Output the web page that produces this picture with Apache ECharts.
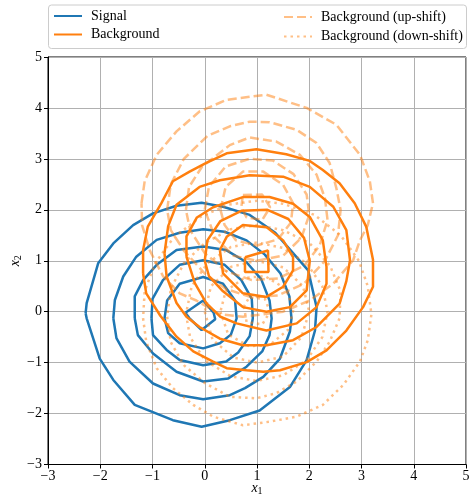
<!DOCTYPE html>
<html>
<head>
<meta charset="utf-8">
<script src="https://cdn.jsdelivr.net/npm/echarts@6/dist/echarts.min.js"></script>
<style>html,body{margin:0;padding:0;background:#fff}#c{width:474px;height:496px}</style>
</head>
<body>
<div id="c"></div>
<script>
// ---- axis ticks ----
const xTicks = [-3, -2, -1, 0, 1, 2, 3, 4, 5];
const yTicks = [-3, -2, -1, 0, 1, 2, 3, 4, 5];

// ---- Signal contours (outer -> inner), [x1, x2] ----
const signal1 = [[-2.28,-0.03],[-2.26,0.17],[-2.04,0.95],[-1.75,1.34],[-1.37,1.70],[-0.99,1.93],[-0.54,2.08],[-0.06,2.14],[0.35,2.06],[0.86,1.90],[1.35,1.55],[1.69,1.15],[1.98,0.81],[2.14,0.09],[2.11,-0.37],[1.95,-0.95],[1.63,-1.48],[1.05,-1.94],[0.48,-2.13],[-0.06,-2.26],[-0.61,-2.13],[-1.34,-1.83],[-1.75,-1.34],[-2.01,-0.92],[-2.26,-0.13],[-2.28,-0.03]];
const signal2 = [[-1.75,-0.13],[-1.72,0.23],[-1.56,0.69],[-1.31,1.08],[-0.92,1.41],[-0.48,1.55],[-0.03,1.62],[0.38,1.57],[0.80,1.40],[1.15,1.12],[1.45,0.75],[1.62,0.30],[1.66,-0.13],[1.63,-0.39],[1.44,-0.92],[1.12,-1.28],[0.77,-1.50],[0.48,-1.64],[-0.03,-1.72],[-0.48,-1.64],[-0.99,-1.41],[-1.44,-0.98],[-1.69,-0.52],[-1.75,-0.13]];
const signal3 = [[-1.34,-0.13],[-1.34,0.30],[-1.18,0.62],[-0.92,0.92],[-0.54,1.21],[-0.03,1.28],[0.41,1.21],[0.80,0.97],[1.08,0.64],[1.24,0.22],[1.28,-0.13],[1.24,-0.46],[1.10,-0.78],[0.80,-1.08],[0.45,-1.31],[-0.03,-1.37],[-0.54,-1.18],[-0.99,-0.82],[-1.28,-0.46],[-1.34,-0.13]];
const signal4 = [[-1.02,-0.13],[-1.00,0.25],[-0.80,0.62],[-0.48,0.92],[-0.03,1.01],[0.38,0.92],[0.70,0.62],[0.90,0.25],[0.92,-0.13],[0.86,-0.48],[0.64,-0.80],[0.41,-0.98],[-0.03,-1.05],[-0.48,-0.95],[-0.73,-0.75],[-0.99,-0.46],[-1.02,-0.13]];
const signal5 = [[-0.77,-0.13],[-0.72,0.22],[-0.48,0.55],[-0.03,0.68],[0.35,0.55],[0.58,0.22],[0.61,-0.13],[0.50,-0.45],[0.29,-0.62],[-0.03,-0.72],[-0.48,-0.62],[-0.70,-0.42],[-0.77,-0.13]];
const signal6 = [[-0.37,-0.02],[-0.03,0.22],[0.17,-0.02],[0.20,-0.15],[-0.06,-0.36],[-0.30,-0.12],[-0.37,-0.02]];

// ---- Background contours ----
const bg1 = [[-1.18,0.75],[-1.18,1.21],[-1.09,1.67],[-0.83,2.13],[-0.61,2.56],[-0.29,2.75],[0.03,2.92],[0.42,3.11],[0.99,3.19],[1.56,3.09],[2.01,2.96],[2.26,2.78],[2.58,2.52],[2.87,2.13],[3.09,1.67],[3.22,1.02],[3.22,0.49],[3.03,0.09],[2.71,-0.37],[2.33,-0.76],[1.95,-0.99],[1.44,-1.15],[1.12,-1.18],[0.80,-1.15],[0.42,-1.11],[0.16,-0.98],[-0.22,-0.78],[-0.54,-0.49],[-0.85,-0.08],[-1.12,0.36],[-1.18,0.75]];
const bg2 = [[-0.77,1.15],[-0.70,1.68],[-0.54,2.10],[-0.10,2.45],[0.29,2.58],[0.86,2.68],[1.50,2.65],[2.01,2.45],[2.46,2.06],[2.71,1.60],[2.78,1.01],[2.71,0.60],[2.58,0.16],[2.14,-0.30],[1.69,-0.56],[1.18,-0.66],[0.73,-0.66],[0.29,-0.53],[-0.10,-0.30],[-0.35,-0.10],[-0.54,0.17],[-0.73,0.69],[-0.77,1.15]];
const bg3 = [[-0.35,1.08],[-0.35,1.48],[-0.15,1.85],[0.16,2.05],[0.73,2.25],[1.24,2.25],[1.69,2.12],[2.01,1.86],[2.26,1.40],[2.33,0.88],[2.33,0.55],[2.14,0.09],[1.76,-0.23],[1.18,-0.37],[0.61,-0.23],[0.30,-0.10],[0.03,0.17],[-0.19,0.56],[-0.35,1.08]];
const bg4 = [[0.00,1.00],[0.05,1.40],[0.30,1.78],[0.70,1.98],[1.20,2.00],[1.60,1.82],[1.90,1.45],[2.01,1.00],[1.95,0.42],[1.63,0.09],[1.18,0.00],[0.73,0.09],[0.35,0.40],[0.08,0.70],[0.00,1.00]];
const bg5 = [[0.29,1.21],[0.42,1.47],[0.73,1.70],[1.18,1.66],[1.50,1.40],[1.69,1.07],[1.69,0.81],[1.50,0.49],[1.18,0.29],[0.73,0.36],[0.35,0.75],[0.29,1.21]];
const bg6 = [[0.77,1.07],[1.21,1.20],[1.22,0.78],[0.77,0.78],[0.77,1.07]];

// ---- Background (up-shift) contours ----
const up1 = [[-1.21,2.13],[-1.15,2.56],[-0.92,3.08],[-0.54,3.54],[-0.10,3.93],[0.42,4.16],[1.18,4.26],[1.95,4.00],[2.52,3.67],[2.97,3.08],[3.16,2.56],[3.22,2.13],[3.12,1.70],[2.97,1.40],[2.84,1.01],[2.46,0.55],[2.01,0.22],[1.50,0.00],[0.73,-0.10],[0.29,-0.05],[-0.16,0.22],[-0.48,0.36],[-0.80,0.70],[-1.05,1.20],[-1.20,1.70],[-1.21,2.13]];
const up2 = [[-0.72,2.00],[-0.65,2.50],[-0.40,3.00],[0.05,3.45],[0.48,3.64],[0.86,3.73],[1.24,3.72],[1.76,3.57],[2.14,3.31],[2.39,2.92],[2.52,2.42],[2.60,2.00],[2.55,1.50],[2.30,1.00],[1.90,0.55],[1.40,0.32],[0.90,0.28],[0.40,0.45],[0.00,0.75],[-0.40,1.20],[-0.65,1.60],[-0.72,2.00]];
const up3 = [[-0.36,2.00],[-0.30,2.45],[-0.05,2.85],[0.48,3.27],[0.86,3.42],[1.37,3.34],[1.82,3.08],[2.14,2.69],[2.30,2.23],[2.35,1.80],[2.20,1.30],[1.90,0.90],[1.40,0.65],[0.90,0.62],[0.40,0.80],[0.00,1.15],[-0.28,1.60],[-0.36,2.00]];
const up4 = [[0.00,2.00],[0.08,2.45],[0.40,2.85],[0.85,3.00],[1.30,2.97],[1.70,2.70],[1.95,2.30],[2.00,1.90],[1.85,1.45],[1.50,1.10],[1.00,1.00],[0.55,1.10],[0.20,1.45],[0.00,2.00]];
const up5 = [[0.30,2.00],[0.40,2.45],[0.73,2.75],[1.12,2.75],[1.50,2.49],[1.69,2.13],[1.65,1.75],[1.40,1.42],[1.00,1.30],[0.60,1.40],[0.38,1.70],[0.30,2.00]];
const up6 = [[0.73,2.29],[1.10,2.30],[1.25,2.05],[1.10,1.80],[0.80,1.85],[0.70,2.05],[0.73,2.29]];

// ---- Background (down-shift) contours ----
const down1 = [[-1.18,-0.13],[-1.12,-0.59],[-0.92,-1.11],[-0.61,-1.50],[-0.22,-1.83],[0.16,-2.06],[0.73,-2.23],[1.24,-2.16],[1.76,-2.06],[2.26,-1.83],[2.65,-1.44],[2.97,-0.98],[3.12,-0.56],[3.19,-0.05],[3.12,0.50],[2.95,1.00],[2.60,1.50],[2.10,1.90],[1.50,2.12],[1.00,2.18],[0.45,2.10],[-0.10,1.85],[-0.60,1.45],[-0.95,0.95],[-1.15,0.40],[-1.18,-0.13]];
const down2 = [[-0.72,-0.10],[-0.65,-0.60],[-0.40,-1.05],[0.00,-1.40],[0.48,-1.67],[0.99,-1.70],[1.37,-1.60],[1.76,-1.37],[2.14,-0.98],[2.39,-0.59],[2.58,-0.13],[2.60,0.40],[2.40,0.90],[2.00,1.35],[1.50,1.60],[1.00,1.70],[0.50,1.62],[0.00,1.35],[-0.40,0.95],[-0.65,0.45],[-0.72,-0.10]];
const down3 = [[-0.36,-0.05],[-0.28,-0.50],[0.00,-0.95],[0.50,-1.27],[1.00,-1.36],[1.50,-1.25],[1.95,-0.95],[2.25,-0.50],[2.35,0.00],[2.25,0.50],[1.95,0.95],[1.50,1.25],[1.00,1.36],[0.50,1.27],[0.05,0.95],[-0.25,0.50],[-0.36,-0.05]];
const down4 = [[0.00,0.00],[0.15,-0.55],[0.55,-0.90],[1.00,-1.00],[1.50,-0.88],[1.85,-0.50],[2.00,0.00],[1.88,0.50],[1.50,0.87],[1.00,1.00],[0.50,0.88],[0.12,0.50],[0.00,0.00]];
const down5 = [[0.30,0.00],[0.45,-0.45],[0.85,-0.68],[1.25,-0.65],[1.60,-0.35],[1.70,0.05],[1.55,0.45],[1.15,0.70],[0.75,0.66],[0.40,0.40],[0.30,0.00]];
const down6 = [[0.75,0.10],[0.80,-0.20],[1.10,-0.25],[1.25,0.00],[1.15,0.25],[0.85,0.28],[0.75,0.10]];

const seriesNames = ['Signal', 'Background', 'Background (up-shift)', 'Background (down-shift)'];
const groups = [
  {name: seriesNames[0], levels: [signal1, signal2, signal3, signal4, signal5, signal6], color: '#1f77b4', type: 'solid', z: 2},
  {name: seriesNames[1], levels: [bg1, bg2, bg3, bg4, bg5, bg6], color: '#ff7f0e', type: 'solid', z: 3},
  {name: seriesNames[2], levels: [up1, up2, up3, up4, up5, up6], color: 'rgba(255,127,14,0.5)', type: [9, 4], z: 4},
  {name: seriesNames[3], levels: [down1, down2, down3, down4, down5, down6], color: 'rgba(255,127,14,0.5)', type: [2.5, 4], z: 5}
];

const series = [];
groups.forEach(g => {
  g.levels.forEach(lv => {
    series.push({
      type: 'line', name: g.name, data: lv, symbol: 'none', smooth: false,
      clip: true, silent: true, z: g.z,
      lineStyle: {color: g.color, width: 2.5, type: g.type, cap: 'butt'},
      itemStyle: {color: g.color}
    });
  });
});

const serif = 'Liberation Serif';
const minus = v => String(v).replace('-', '\u2212');
const legendCommon = {
  orient: 'vertical', itemWidth: 28, itemHeight: 14, selectedMode: false, padding: 0,
  itemStyle: {opacity: 0, borderWidth: 0},
  textStyle: {fontFamily: serif, fontSize: 14, color: '#000', padding: [0, 0, 0, 4]}
};
const nameRich = {
  i: {fontFamily: serif, fontStyle: 'italic', fontSize: 14, color: '#000'},
  s: {fontFamily: serif, fontSize: 10, color: '#000', padding: [6, 0, 0, 0]}
};

const chart = echarts.init(document.getElementById('c'), null, {renderer: 'canvas'});
chart.setOption({
  animation: false,
  backgroundColor: '#fff',
  grid: {left: 48, right: 8, top: 57, bottom: 31.5, containLabel: false, outerBoundsMode: 'none',
         show: true, borderColor: '#000', borderWidth: 1, backgroundColor: 'transparent'},
  graphic: [{
    type: 'rect', z: 1, left: 48, top: 4.5,
    shape: {width: 418, height: 43.5, r: 3},
    style: {fill: 'rgba(255,255,255,0.8)', stroke: '#cccccc', lineWidth: 1}
  }],
  legend: [
    Object.assign({data: [seriesNames[0], seriesNames[1]], left: 53, top: 9, itemGap: 4.5}, legendCommon),
    Object.assign({data: [seriesNames[2], seriesNames[3]], left: 283, top: 10, itemGap: 5.5}, legendCommon)
  ],
  xAxis: {
    type: 'value', min: xTicks[0], max: xTicks[xTicks.length - 1], interval: 1,
    name: '{i|x}{s|1}', nameLocation: 'middle', nameGap: 16, nameMoveOverlap: false,
    nameTextStyle: {rich: nameRich},
    axisLine: {show: true, onZero: false, lineStyle: {color: '#000', width: 1}},
    axisTick: {show: true, inside: false, length: 4, lineStyle: {color: '#000'}},
    axisLabel: {fontFamily: serif, fontSize: 14, color: '#000', margin: 5, formatter: minus},
    splitLine: {show: true, lineStyle: {color: '#b0b0b0', width: 1}}
  },
  yAxis: {
    type: 'value', min: yTicks[0], max: yTicks[yTicks.length - 1], interval: 1,
    name: '{i|x}{s|2}', nameLocation: 'middle', nameGap: 25, nameRotate: 90, nameMoveOverlap: false,
    nameTextStyle: {rich: nameRich},
    axisLine: {show: true, onZero: false, lineStyle: {color: '#000', width: 1}},
    axisTick: {show: true, inside: false, length: 4, lineStyle: {color: '#000'}},
    axisLabel: {fontFamily: serif, fontSize: 14, color: '#000', margin: 6, formatter: minus},
    splitLine: {show: true, lineStyle: {color: '#b0b0b0', width: 1}}
  },
  series: series
});
</script>
</body>
</html>
